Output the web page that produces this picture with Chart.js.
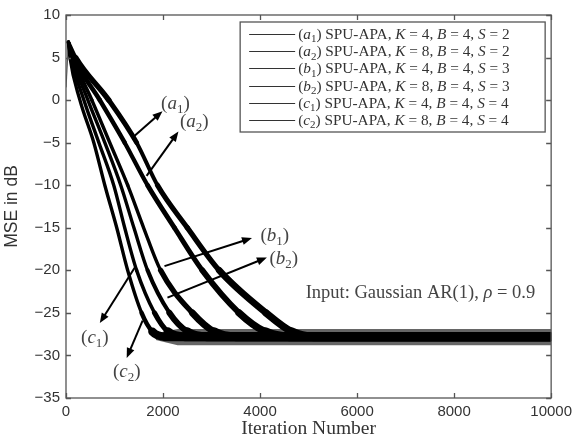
<!DOCTYPE html>
<html>
<head>
<meta charset="utf-8">
<script src="https://cdn.jsdelivr.net/npm/chart.js@4.4.0/dist/chart.umd.min.js"></script>
<style>
  html, body { margin: 0; padding: 0; background: #fff; }
</style>
</head>
<body>
<canvas id="mseChart" width="577" height="441"></canvas>
<script>
// === DATA ===
const seriesLabels = [
  '(a_1) SPU-APA, K = 4, B = 4, S = 2',
  '(a_2) SPU-APA, K = 8, B = 4, S = 2',
  '(b_1) SPU-APA, K = 4, B = 4, S = 3',
  '(b_2) SPU-APA, K = 8, B = 4, S = 3',
  '(c_1) SPU-APA, K = 4, B = 4, S = 4',
  '(c_2) SPU-APA, K = 8, B = 4, S = 4'
];

// iteration numbers and MSE (dB) along each learning curve
const iterA1 = [50, 200, 882, 1456, 1886, 2501, 3157, 4121, 4650, 5100, 10000];
const mseA1  = [6.8, 5, 0, -5, -10, -15, -20, -25, -27.2, -27.8, -27.8];
const iterA2 = [50, 160, 697, 1210, 1681, 2235, 2809, 3567, 4100, 4600, 10000];
const mseA2  = [6.8, 5, 0, -5, -10, -15, -20, -25, -27.2, -27.8, -27.8];
const iterB1 = [50, 143, 533, 902, 1271, 1600, 1950, 2604, 3050, 3500, 10000];
const mseB1  = [6.8, 5, 0, -5, -10, -15, -20, -25, -27.2, -27.8, -27.8];
const iterB2 = [50, 123, 451, 800, 1128, 1400, 1681, 2132, 2500, 2900, 10000];
const mseB2  = [6.8, 5, 0, -5, -10, -15, -20, -25, -27.2, -27.8, -27.8];
const iterC1 = [50, 102, 369, 677, 984, 1210, 1456, 1825, 2100, 2450, 10000];
const mseC1  = [6.8, 5, 0, -5, -10, -15, -20, -25, -27.2, -27.8, -27.8];
const iterC2 = [50, 82, 287, 574, 800, 1046, 1271, 1558, 1780, 2050, 10000];
const mseC2  = [6.8, 5, 0, -5, -10, -15, -20, -25, -27.2, -27.8, -27.8];

// first samples, before the peak
const startIter = [0, 50];
const startMse  = [1.5, 6.8];

// spread of the steady-state noise
const floorIter = [1850, 2300, 10000];
const floorHigh = [-27.4, -26.9, -26.9];
const floorLow  = [-28.2, -28.8, -28.8];

// ticks
const xTicks = [0, 2000, 4000, 6000, 8000, 10000];
const yTicks = [-35, -30, -25, -20, -15, -10, -5, 0, 5, 10];

// annotations (data units)
const curveTags   = ['(a_1)', '(a_2)', '(b_1)', '(b_2)', '(c_1)', '(c_2)'];
const tagIter     = [2255, 2645, 4305, 4490, 595, 1251];
const tagMse      = [-0.3, -2.4, -15.8, -18.5, -27.8, -31.8];
const arrowFromIt = [1374, 1661, 2030, 2091, 1415, 1579];
const arrowFromDb = [-4.4, -8.9, -19.5, -23.2, -19.7, -25.9];
const arrowToIt   = [1989, 2317, 3834, 4141, 697, 1251];
const arrowToDb   = [-1.3, -3.7, -16.2, -18.5, -26.2, -30.3];
const inputNote   = 'Input: Gaussian AR(1), ρ = 0.9';
const inputNoteIt = 4940;
const inputNoteDb = -23.2;

const curves = [
  [iterA1, mseA1], [iterA2, mseA2], [iterB1, mseB1],
  [iterB2, mseB2], [iterC1, mseC1], [iterC2, mseC2]
];

const toPoints = (xs, ys) => xs.map((x, i) => ({ x, y: ys[i] }));

// === RICH TEXT (italic variables, subscripts) ===
const SERIF = '"Liberation Serif", "Times New Roman", serif';

function richRuns(str) {
  const runs = [];
  const isLetter = c => !!c && /[A-Za-zρ]/.test(c);
  for (let i = 0; i < str.length; i++) {
    const ch = str[i];
    let kind, text = ch;
    if (ch === '_') { text = str[i + 1]; kind = 'sub'; i++; }
    else if (isLetter(ch) && !isLetter(str[i - 1]) && !isLetter(str[i + 1])) kind = 'it';
    else kind = 'n';
    const last = runs[runs.length - 1];
    if (last && last.k === kind && kind !== 'sub') last.t += text;
    else runs.push({ t: text, k: kind });
  }
  return runs;
}

function drawRich(ctx, str, x, y, size, align) {
  const fontFor = k => k === 'it' ? `italic ${size}px ${SERIF}`
    : k === 'sub' ? `${Math.round(size * 0.7)}px ${SERIF}` : `${size}px ${SERIF}`;
  const runs = richRuns(str);
  let w = 0;
  runs.forEach(r => { ctx.font = fontFor(r.k); r.w = ctx.measureText(r.t).width; w += r.w; });
  let cx = align === 'center' ? x - w / 2 : x;
  ctx.textAlign = 'left';
  ctx.textBaseline = 'alphabetic';
  runs.forEach(r => {
    ctx.font = fontFor(r.k);
    ctx.fillText(r.t, cx, r.k === 'sub' ? y + size * 0.22 : y);
    cx += r.w;
  });
  return w;
}

function drawArrow(ctx, x0, y0, x1, y1) {
  const ang = Math.atan2(y1 - y0, x1 - x0);
  const hl = 10, hw = 4;
  ctx.beginPath();
  ctx.moveTo(x0, y0);
  ctx.lineTo(x1 - Math.cos(ang) * hl * 0.8, y1 - Math.sin(ang) * hl * 0.8);
  ctx.stroke();
  ctx.beginPath();
  ctx.moveTo(x1, y1);
  ctx.lineTo(x1 - Math.cos(ang) * hl - Math.sin(ang) * hw, y1 - Math.sin(ang) * hl + Math.cos(ang) * hw);
  ctx.lineTo(x1 - Math.cos(ang) * hl + Math.sin(ang) * hw, y1 - Math.sin(ang) * hl - Math.cos(ang) * hw);
  ctx.closePath();
  ctx.fill();
}

// === PLUGIN: frame, inward ticks, legend, annotations ===
const matlabLook = {
  id: 'matlabLook',
  afterDatasetsDraw(chart) {
    const { ctx, chartArea: a, scales: { x, y } } = chart;
    ctx.save();

    // arrows + tags
    ctx.strokeStyle = '#000';
    ctx.fillStyle = '#000';
    ctx.lineWidth = 2;
    curveTags.forEach((tag, i) => {
      drawArrow(ctx,
        x.getPixelForValue(arrowFromIt[i]), y.getPixelForValue(arrowFromDb[i]),
        x.getPixelForValue(arrowToIt[i]), y.getPixelForValue(arrowToDb[i]));
    });
    ctx.fillStyle = '#444';
    curveTags.forEach((tag, i) => {
      drawRich(ctx, tag, x.getPixelForValue(tagIter[i]), y.getPixelForValue(tagMse[i]) + 6, 19, 'center');
    });
    drawRich(ctx, inputNote, x.getPixelForValue(inputNoteIt), y.getPixelForValue(inputNoteDb), 18.5, 'left');

    // frame
    ctx.strokeStyle = '#555';
    ctx.lineWidth = 1.3;
    ctx.strokeRect(a.left, a.top, a.right - a.left, a.bottom - a.top);
    ctx.beginPath();
    xTicks.forEach(v => {
      const px = Math.round(x.getPixelForValue(v)) + 0.5;
      ctx.moveTo(px, a.bottom); ctx.lineTo(px, a.bottom - 5);
      ctx.moveTo(px, a.top); ctx.lineTo(px, a.top + 5);
    });
    yTicks.forEach(v => {
      const py = Math.round(y.getPixelForValue(v)) + 0.5;
      ctx.moveTo(a.left, py); ctx.lineTo(a.left + 5, py);
      ctx.moveTo(a.right, py); ctx.lineTo(a.right - 5, py);
    });
    ctx.stroke();

    // legend box
    const bx = a.right - 311, by = a.top + 7, bw = 305, bh = 110;
    ctx.fillStyle = '#fff';
    ctx.fillRect(bx, by, bw, bh);
    ctx.strokeStyle = '#555';
    ctx.lineWidth = 1.3;
    ctx.strokeRect(bx, by, bw, bh);
    seriesLabels.forEach((label, i) => {
      const cy = by + 12 + i * 17.2;
      ctx.strokeStyle = '#333';
      ctx.lineWidth = 1;
      ctx.beginPath();
      ctx.moveTo(bx + 9, Math.round(cy) + 0.5);
      ctx.lineTo(bx + 55, Math.round(cy) + 0.5);
      ctx.stroke();
      ctx.fillStyle = '#333';
      drawRich(ctx, label, bx + 58, cy + 5, 15.3, 'left');
    });
    ctx.restore();
  }
};

// === CHART ===
const minus = v => String(v).replace('-', '\u2212');

const datasets = curves.map(([xs, ys], i) => ({
  label: seriesLabels[i],
  data: toPoints(xs, ys),
  borderColor: '#000',
  backgroundColor: '#000',
  borderCapStyle: 'round',
  borderJoinStyle: 'round',
  cubicInterpolationMode: 'monotone',
  pointRadius: 0,
  fill: false,
  segment: {
    // noisy band: thicker where the curve is flat
    borderWidth: c => {
      const dx = c.p1.x - c.p0.x, dy = c.p1.y - c.p0.y;
      const m = Math.abs(dy / (dx || 1e-6));
      return Math.max(3.4, 9 / Math.sqrt(1 + m * m));
    }
  }
}));

datasets.push({
  label: 'start',
  data: toPoints(startIter, startMse),
  borderColor: '#555', borderWidth: 1.2, pointRadius: 0, fill: false
});
datasets.push({
  label: 'floorHigh',
  data: toPoints(floorIter, floorHigh),
  borderWidth: 0, pointRadius: 0,
  backgroundColor: 'rgba(0,0,0,0.6)', fill: '+1'
});
datasets.push({
  label: 'floorLow',
  data: toPoints(floorIter, floorLow),
  borderWidth: 0, pointRadius: 0, fill: false
});

new Chart(document.getElementById('mseChart'), {
  type: 'line',
  data: { datasets },
  options: {
    responsive: false,
    animation: false,
    layout: { padding: { top: 13, right: 23, left: 0, bottom: 0 } },
    plugins: { legend: { display: false }, tooltip: { enabled: false } },
    scales: {
      x: {
        type: 'linear', min: 0, max: 10000,
        afterFit: s => { s.height = 43; },
        afterBuildTicks: s => { s.ticks = xTicks.map(v => ({ value: v })); },
        grid: { display: false, drawTicks: false },
        border: { display: false },
        ticks: { color: '#333', padding: 5, font: { family: '"Liberation Sans", Arial, sans-serif', size: 15 }, callback: minus },
        title: { display: true, text: 'Iteration Number', color: '#333', padding: { top: 0, bottom: 0 },
                 font: { family: SERIF, size: 19.5 } }
      },
      y: {
        min: -35, max: 10,
        afterFit: s => { s.width = 66; },
        afterBuildTicks: s => { s.ticks = yTicks.map(v => ({ value: v })); },
        grid: { display: false, drawTicks: false },
        border: { display: false },
        ticks: { color: '#333', padding: 6, font: { family: '"Liberation Sans", Arial, sans-serif', size: 15 }, callback: minus },
        title: { display: true, text: 'MSE in dB', color: '#333', padding: { top: 2, bottom: 0 },
                 font: { family: '"Liberation Sans", Arial, sans-serif', size: 17.5 } }
      }
    }
  },
  plugins: [matlabLook]
});
</script>
</body>
</html>
